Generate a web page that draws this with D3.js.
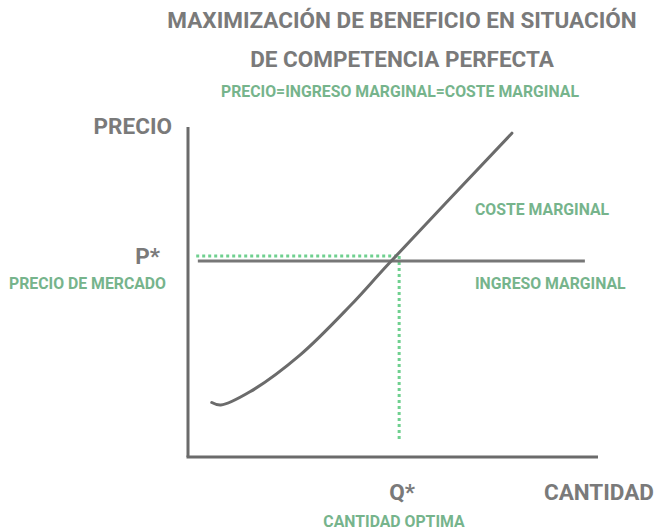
<!DOCTYPE html>
<html><head><meta charset="utf-8">
<script src="https://cdn.jsdelivr.net/npm/d3@7"></script>
<style>body{margin:0;background:#fff}svg{display:block}text{font-family:Roboto,"Noto Sans",sans-serif;font-weight:700}</style>
</head><body><div id="chart"></div>
<script>
// Marginal cost curve points (quantity, price)
const mcQuantity = [0.58, 0.80, 1.51, 2.73, 3.95, 4.90, 7.90];
const mcPrice    = [1.32, 1.26, 1.58, 2.47, 3.66, 4.69, 7.85];
// Marginal revenue (horizontal) line
const mrQuantity = [0.24, 9.68];
const mrPrice = 4.75;
// Equilibrium
const pStar = 4.87;
const qStar = 5.15;
const dotStartQ = 0.2;
const dotEndP = 0.41;

const W = 656, H = 531;
const svg = d3.select("#chart").append("svg").attr("width", W).attr("height", H);
const x = d3.scaleLinear().domain([0, 10]).range([188, 598]);
const y = d3.scaleLinear().domain([0, 8]).range([457, 127]);

const gray = "#6b6b6b", textGray = "#7a7a7a", green = "#76b48c", dotGreen = "#6fd08f";

// axes
svg.append("line").attr("x1", x(0)).attr("x2", x(0)).attr("y1", y(8)).attr("y2", y(0))
  .attr("stroke", gray).attr("stroke-width", 3);
svg.append("line").attr("x1", x(0)-1.5).attr("x2", x(10)).attr("y1", y(0)).attr("y2", y(0))
  .attr("stroke", gray).attr("stroke-width", 3);

// dotted lines
svg.append("line").attr("x1", x(dotStartQ)).attr("x2", x(qStar)).attr("y1", y(pStar)).attr("y2", y(pStar))
  .attr("stroke", dotGreen).attr("stroke-width", 3).attr("stroke-dasharray", "3,3");
svg.append("line").attr("x1", x(qStar)).attr("x2", x(qStar)).attr("y1", y(pStar)).attr("y2", y(dotEndP))
  .attr("stroke", dotGreen).attr("stroke-width", 3).attr("stroke-dasharray", "3,3");

// MR line
svg.append("line").attr("x1", x(mrQuantity[0])).attr("x2", x(mrQuantity[1])).attr("y1", y(mrPrice)).attr("y2", y(mrPrice))
  .attr("stroke", "#777").attr("stroke-width", 3);

// MC curve
const mc = mcQuantity.map((q, i) => [q, mcPrice[i]]);
svg.append("path").datum(mc)
  .attr("d", d3.line().x(d => x(d[0])).y(d => y(d[1])).curve(d3.curveCatmullRom.alpha(0.5)))
  .attr("fill", "none").attr("stroke", gray).attr("stroke-width", 3).attr("stroke-linecap", "round");

function label(t, xx, yy, size, color, anchor) {
  svg.append("text").attr("x", xx).attr("y", yy).attr("font-size", size).attr("fill", color)
    .attr("text-anchor", anchor || "start").text(t);
}
label("MAXIMIZACIÓN DE BENEFICIO EN SITUACIÓN", 402, 28, 22.5, textGray, "middle");
label("DE COMPETENCIA PERFECTA", 402, 67, 22.5, textGray, "middle");
label("PRECIO=INGRESO MARGINAL=COSTE MARGINAL", 400, 97, 15.8, green, "middle");
label("PRECIO", 172, 134, 22.5, textGray, "end");
label("P*", 160, 264, 22.5, textGray, "end");
label("PRECIO DE MERCADO", 166, 289, 15.8, green, "end");
label("COSTE MARGINAL", 475, 215, 15.8, green);
label("INGRESO MARGINAL", 475, 289, 15.8, green);
label("Q*", x(qStar) + 3, 500, 22.5, textGray, "middle");
label("CANTIDAD", 654, 500, 22.5, textGray, "end");
label("CANTIDAD OPTIMA", 394, 527, 15.8, green, "middle");
</script></body></html>
